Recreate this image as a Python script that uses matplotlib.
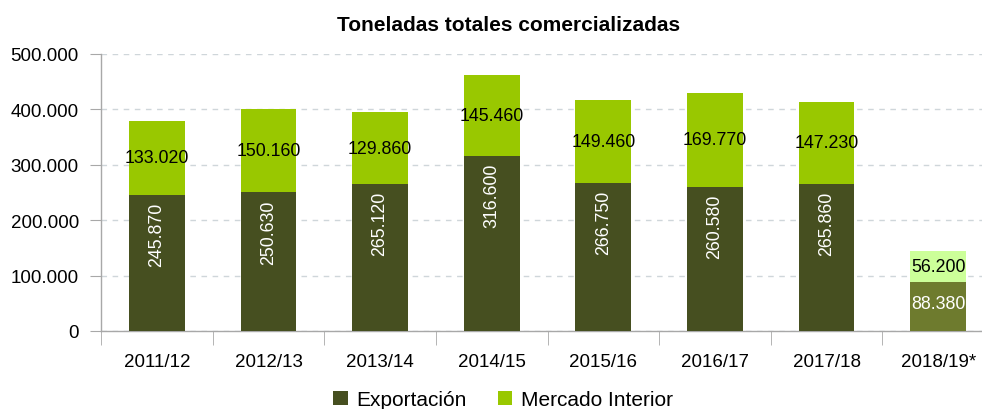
import matplotlib
matplotlib.use("Agg")
import matplotlib.pyplot as plt
from matplotlib import font_manager as fm
from matplotlib.ticker import FuncFormatter, MultipleLocator
from matplotlib.patches import Patch
from matplotlib.transforms import offset_copy
import numpy as np

categories = ["2011/12", "2012/13", "2013/14", "2014/15", "2015/16", "2016/17", "2017/18", "2018/19*"]
exportacion = [245870, 250630, 265120, 316600, 266750, 260580, 265860, 88380]
mercado = [133020, 150160, 129860, 145460, 149460, 169770, 147230, 56200]

plt.rcParams['font.family'] = ['Liberation Sans', 'DejaVu Sans']

def has_font(name):
    try:
        fm.findfont(fm.FontProperties(family=name), fallback_to_default=False)
        return True
    except Exception:
        return False

narrow = 'Liberation Sans Narrow' if has_font('Liberation Sans Narrow') else None
lab_family = [narrow, 'Liberation Sans'] if narrow else ['Liberation Sans']
lab_size = 14 if narrow else 12.8

def fmt(v):
    return f"{v:,.0f}".replace(",", ".")

dark = "#464f20"
light = "#99c800"
dark_last = "#6e7b2e"
light_last = "#ccff99"

fig = plt.figure(figsize=(9.82, 4.10), dpi=100)
ax = fig.add_axes([101/982, 78/410, 893/982, 277/410])

x = np.arange(len(categories))
n = len(categories)
exp_colors = [dark] * (n - 1) + [dark_last]
mer_colors = [light] * (n - 1) + [light_last]
ax.bar(x, exportacion, width=0.5, color=exp_colors, zorder=3)
ax.bar(x, mercado, width=0.5, bottom=exportacion, color=mer_colors, zorder=3)

ax.set_ylim(0, 500000)
ax.set_xlim(-0.5, n - 0.5)
ax.yaxis.set_major_locator(MultipleLocator(100000))
ax.yaxis.set_major_formatter(FuncFormatter(lambda v, p: fmt(v)))
ax.grid(axis='y', linestyle=(0, (4, 4)), color='#cfd6da', linewidth=1, zorder=0)

for s in ['top', 'right']:
    ax.spines[s].set_visible(False)
for s in ['left', 'bottom']:
    ax.spines[s].set_color('#a8a8a8')
    ax.spines[s].set_linewidth(1)

ax.tick_params(axis='y', length=8, color='#a8a8a8', labelsize=13.5, pad=8)
ax.set_xticks(x)
ax.set_xticklabels(categories)
ax.tick_params(axis='x', which='major', length=0, labelsize=13.5, pad=16)
ax.set_xticks(np.arange(n + 1) - 0.5, minor=True)
ax.tick_params(axis='x', which='minor', length=10, color='#a8a8a8')

for i in range(n):
    e = exportacion[i]
    m = mercado[i]
    if i < n - 1:
        tr = offset_copy(ax.transData, fig=fig, x=0, y=-7, units='dots')
        ax.text(x[i], e, fmt(e), rotation=90, ha='center', va='top', color='white',
                family=lab_family, fontsize=lab_size, transform=tr, zorder=4)
    else:
        ax.text(x[i], e * 0.56, fmt(e), ha='center', va='center', color='white',
                family=lab_family, fontsize=lab_size, zorder=4)
    ax.text(x[i], e + m / 2, fmt(m), ha='center', va='center', color='black',
            family=lab_family, fontsize=lab_size, zorder=4)

fig.text(509/982, 0.939, "Toneladas totales comercializadas", ha='center', va='center',
         fontsize=15, fontweight='bold')

handles = [Patch(facecolor=dark, label='Exportación'), Patch(facecolor=light, label='Mercado Interior')]
fig.legend(handles=handles, loc='center', bbox_to_anchor=(0.512, 0.022), ncol=2, frameon=False,
           fontsize=15, handlelength=0.7, handleheight=0.7, handletextpad=0.4, columnspacing=1.5)

fig.savefig("out.png", dpi=100)
